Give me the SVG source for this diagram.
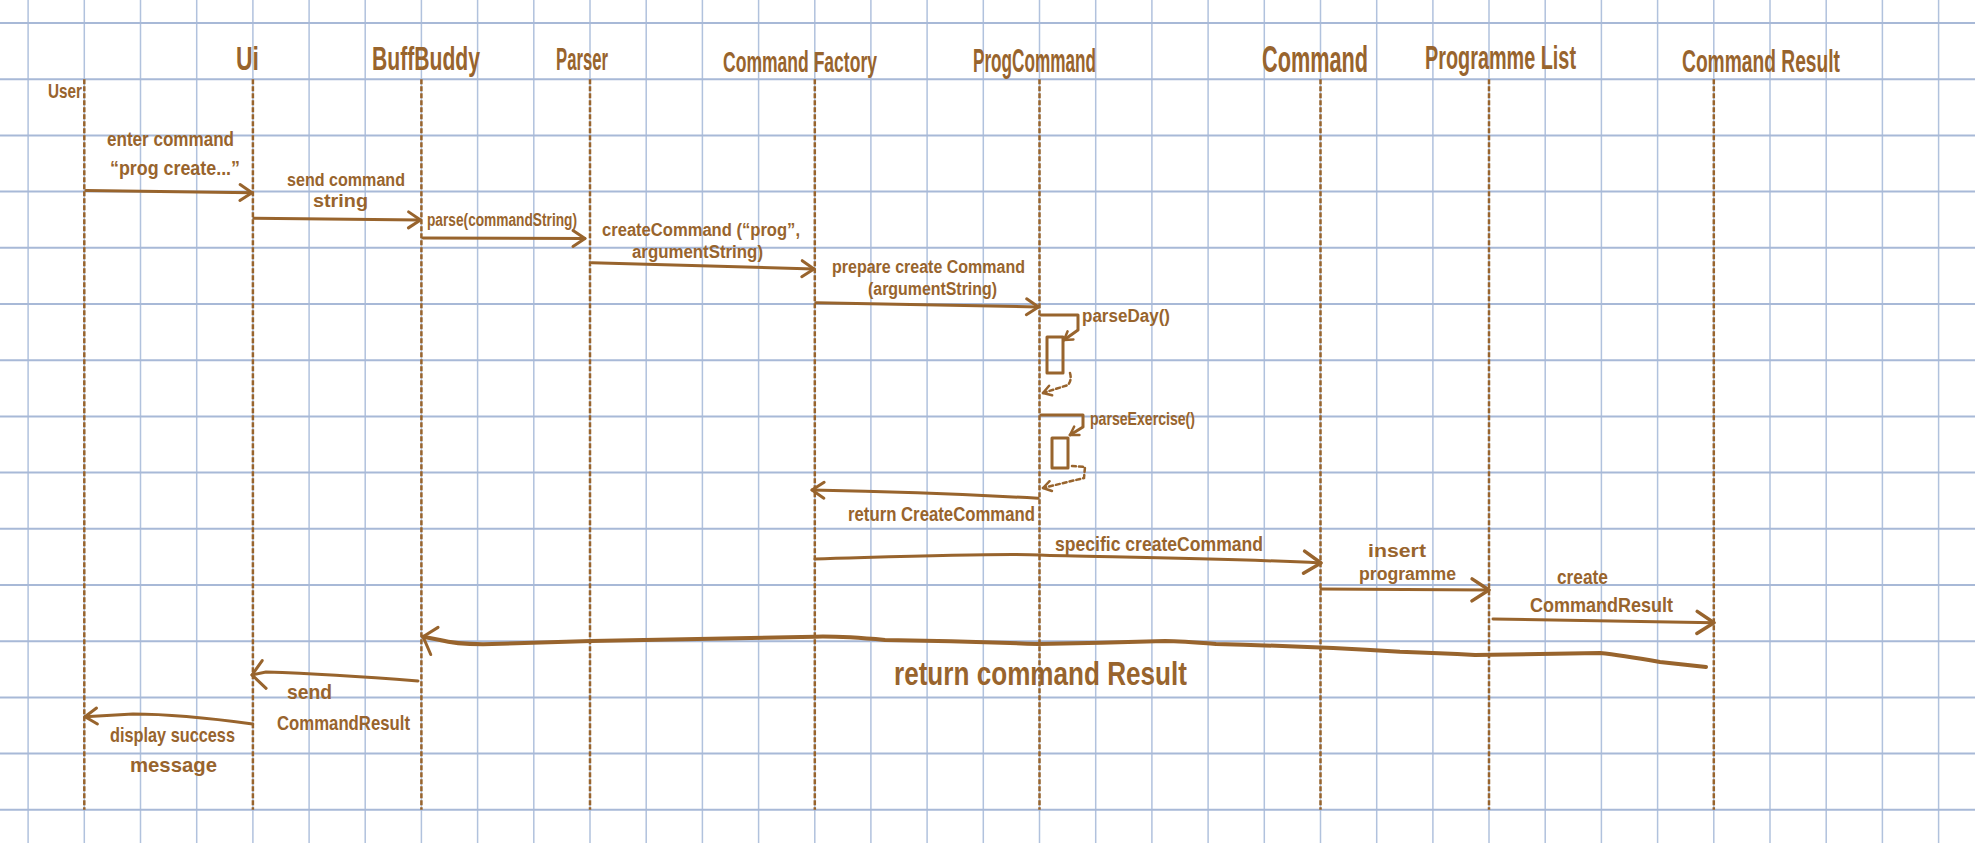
<svg xmlns="http://www.w3.org/2000/svg" width="1975" height="843" viewBox="0 0 1975 843">
<style>
.gv{stroke:#b1c2dd;stroke-width:1.5;fill:none}
.gh{stroke:#a8b9d7;stroke-width:2;fill:none}
.life{stroke:#98642d;stroke-width:2.5;stroke-dasharray:5 2;fill:none}
.msg{stroke:#98642d;stroke-width:3;fill:none;stroke-linecap:round;stroke-linejoin:round}
.big{stroke:#98642d;stroke-width:4;fill:none;stroke-linecap:round;stroke-linejoin:round}
.ret{stroke:#98642d;stroke-width:2.5;fill:none;stroke-dasharray:4 3;stroke-linecap:round}
.act{stroke:#98642d;stroke-width:3;fill:none;stroke-linejoin:round}
text{font-family:"Liberation Sans Narrow","Liberation Sans",Arial,sans-serif;font-weight:bold;fill:#98642d}
.hd{font-size:34px}
.lb{font-size:21px}
.tl{font-size:18px}
.sm{font-size:18px}
</style>
<defs>
<marker id="mM" viewBox="-20 -20 40 40" markerWidth="40" markerHeight="40" refX="0" refY="0" orient="auto" markerUnits="userSpaceOnUse">
<path d="M-12,-8 L0,0 L-12,8" fill="none" stroke="#98642d" stroke-width="3" stroke-linecap="round" stroke-linejoin="round"/>
</marker>
<marker id="mL" viewBox="-25 -25 50 50" markerWidth="50" markerHeight="50" refX="0" refY="0" orient="auto" markerUnits="userSpaceOnUse">
<path d="M-17,-11 L0,0 L-17,11" fill="none" stroke="#98642d" stroke-width="3.5" stroke-linecap="round" stroke-linejoin="round"/>
</marker>
<marker id="mS" viewBox="-15 -15 30 30" markerWidth="30" markerHeight="30" refX="0" refY="0" orient="auto" markerUnits="userSpaceOnUse">
<path d="M-8,-5 L0,0 L-8,5" fill="none" stroke="#98642d" stroke-width="2.5" stroke-linecap="round" stroke-linejoin="round"/>
</marker>
<marker id="mW" viewBox="-25 -25 50 50" markerWidth="50" markerHeight="50" refX="0" refY="0" orient="auto" markerUnits="userSpaceOnUse">
<path d="M-11,-16 L0,0 L-13,12" fill="none" stroke="#98642d" stroke-width="3" stroke-linecap="round" stroke-linejoin="round"/>
</marker>
</defs>
<rect x="0" y="0" width="1975" height="843" fill="#ffffff"/>
<g id="grid">
<path class="gv" d="M28.1 0V843M84.3 0V843M140.5 0V843M196.7 0V843M252.9 0V843M309.1 0V843M365.2 0V843M421.4 0V843M477.6 0V843M533.8 0V843M590 0V843M646.2 0V843M702.4 0V843M758.6 0V843M814.8 0V843M870.9 0V843M927.1 0V843M983.3 0V843M1039.5 0V843M1095.7 0V843M1151.9 0V843M1208.1 0V843M1264.3 0V843M1320.5 0V843M1376.7 0V843M1432.9 0V843M1489 0V843M1545.2 0V843M1601.4 0V843M1657.6 0V843M1713.8 0V843M1770 0V843M1826.2 0V843M1882.4 0V843M1938.6 0V843"/>
<path class="gh" d="M0 23H1975M0 79.2H1975M0 135.4H1975M0 191.6H1975M0 247.8H1975M0 304H1975M0 360.2H1975M0 416.4H1975M0 472.6H1975M0 528.8H1975M0 585H1975M0 641.2H1975M0 697.4H1975M0 753.6H1975M0 809.8H1975"/>
</g>
<g id="user"><text class="lb" x="48" y="98" textLength="34" lengthAdjust="spacingAndGlyphs">User</text><path class="life" d="M84.3 79.2V809.8"/></g>
<g id="ui"><text class="hd" x="236" y="70" textLength="23" lengthAdjust="spacingAndGlyphs">Ui</text><path class="life" d="M252.9 79.2V809.8"/></g>
<g id="buffbuddy"><text class="hd" x="372" y="70" textLength="108" lengthAdjust="spacingAndGlyphs">BuffBuddy</text><path class="life" d="M421.4 79.2V809.8"/></g>
<g id="parser"><text class="hd" x="556" y="70" style="font-size:32px" textLength="52" lengthAdjust="spacingAndGlyphs">Parser</text><path class="life" d="M590 79.2V809.8"/></g>
<g id="commandfactory"><text class="hd" x="723" y="72" style="font-size:29px" textLength="154" lengthAdjust="spacingAndGlyphs">Command Factory</text><path class="life" d="M814.8 79.2V809.8"/></g>
<g id="progcommand"><text class="hd" x="973" y="72" textLength="123" lengthAdjust="spacingAndGlyphs">ProgCommand</text><path class="life" d="M1039.5 79.2V809.8"/></g>
<g id="command"><text class="hd" x="1262" y="72" style="font-size:36px" textLength="106" lengthAdjust="spacingAndGlyphs">Command</text><path class="life" d="M1320.5 79.2V809.8"/></g>
<g id="programmelist"><text class="hd" x="1425" y="69" style="font-size:34px" textLength="151" lengthAdjust="spacingAndGlyphs">Programme List</text><path class="life" d="M1489 79.2V809.8"/></g>
<g id="commandresult"><text class="hd" x="1682" y="72" style="font-size:32px" textLength="158" lengthAdjust="spacingAndGlyphs">Command Result</text><path class="life" d="M1713.8 79.2V809.8"/></g>
<g id="activations">
<rect class="act" x="1047" y="337" width="16" height="36"/>
<rect class="act" x="1052" y="438" width="16" height="30"/>
</g>
<g id="connectors">
<path class="msg" d="M86 190.5 L252 192.7" marker-end="url(#mM)"/>
<path class="msg" d="M254 218.3 L420.5 220" marker-end="url(#mM)"/>
<path class="msg" d="M423 238 L585 238.5" marker-end="url(#mM)"/>
<path class="msg" d="M592 262.7 L814 269" marker-end="url(#mM)"/>
<path class="msg" d="M816 302.7 L1038.5 307" marker-end="url(#mM)"/>
<path class="msg" d="M1041 315 L1078 315 L1078 330 L1064 340" marker-end="url(#mS)"/>
<path class="ret" d="M1070 373 Q1072 380 1068 385 L1043 393" marker-end="url(#mS)"/>
<path class="msg" d="M1041 415 L1083 415 L1083 427 L1070 435" marker-end="url(#mS)"/>
<path class="ret" d="M1072 466 L1085 467 L1084 478 L1043 488" marker-end="url(#mS)"/>
<path class="msg" d="M1038 498.3 Q930 492 812 490" marker-end="url(#mM)"/>
<path class="msg" d="M815 559 C920 556 1000 553 1040 555 S1200 557 1321 563" marker-end="url(#mL)"/>
<path class="msg" d="M1321 589 L1489 590" marker-end="url(#mL)"/>
<path class="msg" d="M1493 619 L1714 622.7" marker-end="url(#mL)"/>
<path class="big" d="M1706 667 L1660 662 Q1620 655 1600 653 L1475 655 Q1440 653 1400 651.7 Q1300 646 1216 644 Q1180 641 1165 641 Q1100 643 1038 644 Q960 641 885 640 Q840 636 815 636.7 Q700 639 591 641 Q500 644 483 644.3 Q455 644 440 640 L423 636.7" marker-end="url(#mW)"/>
<path class="msg" d="M418 681 Q330 674 266 672 L252 675" marker-end="url(#mW)"/>
<path class="msg" d="M252.7 724 Q180 714 133 714 L85 716.7" marker-end="url(#mM)"/>
</g>
<g id="labels">
<text class="lb" x="107" y="146" textLength="127" lengthAdjust="spacingAndGlyphs">enter command</text>
<text class="lb" x="110" y="175" textLength="130" lengthAdjust="spacingAndGlyphs">“prog create...”</text>
<text class="tl" x="287" y="186" textLength="118" lengthAdjust="spacingAndGlyphs">send command</text>
<text class="tl" x="313" y="207" textLength="55" lengthAdjust="spacingAndGlyphs">string</text>
<text class="tl" x="427" y="226" textLength="150" lengthAdjust="spacingAndGlyphs">parse(commandString)</text>
<text class="tl" x="602" y="236" textLength="198" lengthAdjust="spacingAndGlyphs">createCommand (“prog”,</text>
<text class="tl" x="632" y="258" textLength="131" lengthAdjust="spacingAndGlyphs">argumentString)</text>
<text class="tl" x="832" y="273" textLength="193" lengthAdjust="spacingAndGlyphs">prepare create Command</text>
<text class="tl" x="868" y="295" textLength="129" lengthAdjust="spacingAndGlyphs">(argumentString)</text>
<text class="sm" x="1082" y="322" textLength="88" lengthAdjust="spacingAndGlyphs">parseDay()</text>
<text class="sm" x="1090" y="425" textLength="105" lengthAdjust="spacingAndGlyphs">parseExercise()</text>
<text class="lb" x="848" y="521" textLength="187" lengthAdjust="spacingAndGlyphs">return CreateCommand</text>
<text class="lb" x="1055" y="551" textLength="208" lengthAdjust="spacingAndGlyphs">specific createCommand</text>
<text class="tl" x="1368" y="557" textLength="58" lengthAdjust="spacingAndGlyphs">insert</text>
<text class="tl" x="1359" y="580" textLength="97" lengthAdjust="spacingAndGlyphs">programme</text>
<text class="lb" x="1557" y="584" textLength="51" lengthAdjust="spacingAndGlyphs">create</text>
<text class="lb" x="1530" y="612" textLength="143" lengthAdjust="spacingAndGlyphs">CommandResult</text>
<text class="hd" x="894" y="685" textLength="293" lengthAdjust="spacingAndGlyphs">return command Result</text>
<text class="lb" x="287" y="699" textLength="45" lengthAdjust="spacingAndGlyphs">send</text>
<text class="lb" x="277" y="730" textLength="133" lengthAdjust="spacingAndGlyphs">CommandResult</text>
<text class="lb" x="110" y="742" textLength="125" lengthAdjust="spacingAndGlyphs">display success</text>
<text class="lb" x="130" y="772" textLength="87" lengthAdjust="spacingAndGlyphs">message</text>
</g>
</svg>
